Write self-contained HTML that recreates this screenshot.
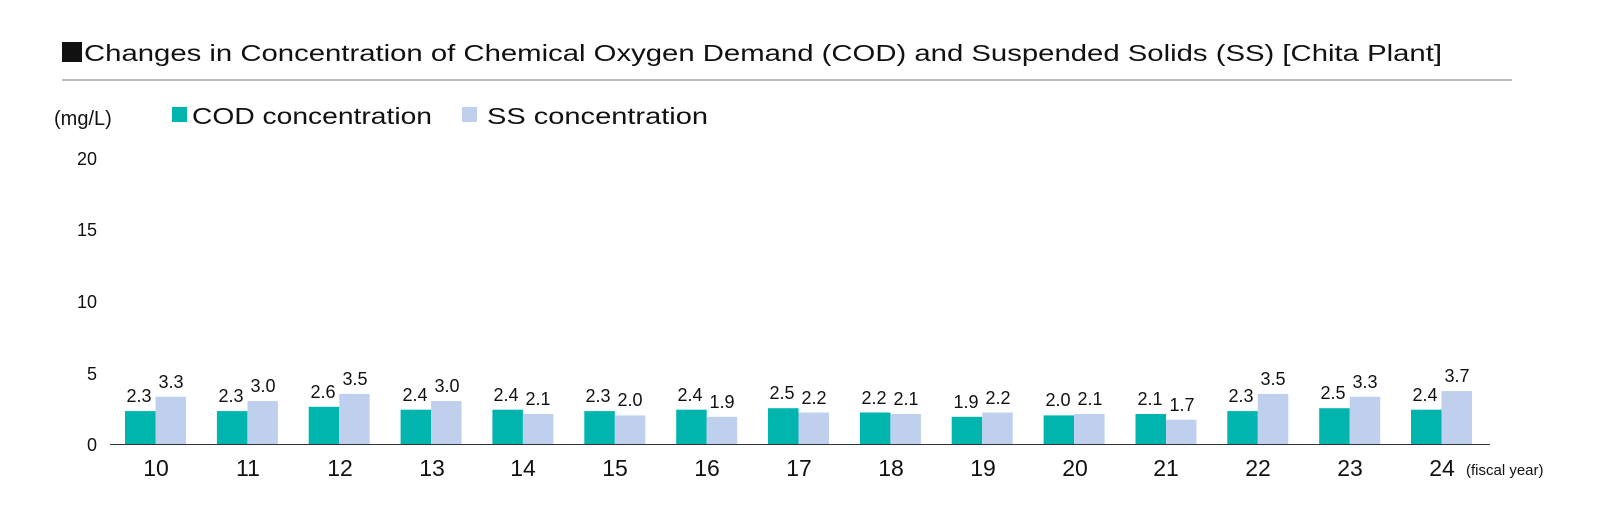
<!DOCTYPE html>
<html><head><meta charset="utf-8"><style>
html,body{margin:0;padding:0;background:#fff;}
svg{display:block;font-family:"Liberation Sans","DejaVu Sans",sans-serif;}
</style></head><body>
<svg width="1601" height="521" viewBox="0 0 1601 521" xmlns="http://www.w3.org/2000/svg">
<rect x="62" y="42" width="20" height="20" fill="#111"/>
<text x="84" y="61" font-size="23" fill="#111" textLength="1358" lengthAdjust="spacingAndGlyphs">Changes in Concentration of Chemical Oxygen Demand (COD) and Suspended Solids (SS) [Chita Plant]</text>
<line x1="62" y1="80" x2="1512" y2="80" stroke="#777" stroke-width="1"/>
<text x="54" y="125" font-size="20" fill="#111">(mg/L)</text>
<rect x="172" y="107" width="15" height="15" fill="#00b5ad"/>
<text x="192" y="124" font-size="23" fill="#111" textLength="240" lengthAdjust="spacingAndGlyphs">COD concentration</text>
<rect x="462" y="107" width="15" height="15" fill="#bed0ee"/>
<text x="487" y="124" font-size="23" fill="#111" textLength="221" lengthAdjust="spacingAndGlyphs">SS concentration</text>
<g font-size="18" fill="#111" text-anchor="end">
<text x="97" y="165">20</text><text x="97" y="236">15</text><text x="97" y="308">10</text><text x="97" y="380">5</text><text x="97" y="451">0</text>
</g>
<g fill="#00b5ad">
<rect x="125.0" y="411.1" width="30.5" height="32.9"/>
<rect x="216.9" y="411.1" width="30.5" height="32.9"/>
<rect x="308.7" y="406.8" width="30.5" height="37.2"/>
<rect x="400.6" y="409.7" width="30.5" height="34.3"/>
<rect x="492.4" y="409.7" width="30.5" height="34.3"/>
<rect x="584.3" y="411.1" width="30.5" height="32.9"/>
<rect x="676.2" y="409.7" width="30.5" height="34.3"/>
<rect x="768.0" y="408.2" width="30.5" height="35.8"/>
<rect x="859.9" y="412.5" width="30.5" height="31.5"/>
<rect x="951.7" y="416.8" width="30.5" height="27.2"/>
<rect x="1043.6" y="415.4" width="30.5" height="28.6"/>
<rect x="1135.5" y="414.0" width="30.5" height="30.0"/>
<rect x="1227.3" y="411.1" width="30.5" height="32.9"/>
<rect x="1319.2" y="408.2" width="30.5" height="35.8"/>
<rect x="1411.0" y="409.7" width="30.5" height="34.3"/>
</g>
<g fill="#bed0ee">
<rect x="155.5" y="396.8" width="30.5" height="47.2"/>
<rect x="247.4" y="401.1" width="30.5" height="42.9"/>
<rect x="339.2" y="393.9" width="30.5" height="50.1"/>
<rect x="431.1" y="401.1" width="30.5" height="42.9"/>
<rect x="522.9" y="414.0" width="30.5" height="30.0"/>
<rect x="614.8" y="415.4" width="30.5" height="28.6"/>
<rect x="706.7" y="416.8" width="30.5" height="27.2"/>
<rect x="798.5" y="412.5" width="30.5" height="31.5"/>
<rect x="890.4" y="414.0" width="30.5" height="30.0"/>
<rect x="982.2" y="412.5" width="30.5" height="31.5"/>
<rect x="1074.1" y="414.0" width="30.5" height="30.0"/>
<rect x="1166.0" y="419.7" width="30.5" height="24.3"/>
<rect x="1257.8" y="393.9" width="30.5" height="50.1"/>
<rect x="1349.7" y="396.8" width="30.5" height="47.2"/>
<rect x="1441.5" y="391.1" width="30.5" height="52.9"/>
</g>
<g font-size="18" fill="#111" text-anchor="middle">
<text x="139" y="402">2.3</text><text x="171" y="388">3.3</text>
<text x="231" y="402">2.3</text><text x="263" y="392">3.0</text>
<text x="323" y="398">2.6</text><text x="355" y="385">3.5</text>
<text x="415" y="401">2.4</text><text x="447" y="392">3.0</text>
<text x="506" y="401">2.4</text><text x="538" y="405">2.1</text>
<text x="598" y="402">2.3</text><text x="630" y="406">2.0</text>
<text x="690" y="401">2.4</text><text x="722" y="408">1.9</text>
<text x="782" y="399">2.5</text><text x="814" y="404">2.2</text>
<text x="874" y="404">2.2</text><text x="906" y="405">2.1</text>
<text x="966" y="408">1.9</text><text x="998" y="404">2.2</text>
<text x="1058" y="406">2.0</text><text x="1090" y="405">2.1</text>
<text x="1150" y="405">2.1</text><text x="1182" y="411">1.7</text>
<text x="1241" y="402">2.3</text><text x="1273" y="385">3.5</text>
<text x="1333" y="399">2.5</text><text x="1365" y="388">3.3</text>
<text x="1425" y="401">2.4</text><text x="1457" y="382">3.7</text>
</g>
<line x1="110" y1="444.5" x2="1490" y2="444.5" stroke="#333" stroke-width="1"/>
<g font-size="23" fill="#111" text-anchor="middle">
<text x="156" y="476">10</text><text x="248" y="476">11</text><text x="340" y="476">12</text><text x="432" y="476">13</text><text x="523" y="476">14</text><text x="615" y="476">15</text><text x="707" y="476">16</text><text x="799" y="476">17</text><text x="891" y="476">18</text><text x="983" y="476">19</text><text x="1075" y="476">20</text><text x="1166" y="476">21</text><text x="1258" y="476">22</text><text x="1350" y="476">23</text><text x="1442" y="476">24</text>
</g>
<text x="1466" y="475" font-size="15" fill="#111">(fiscal year)</text>
</svg>
</body></html>
